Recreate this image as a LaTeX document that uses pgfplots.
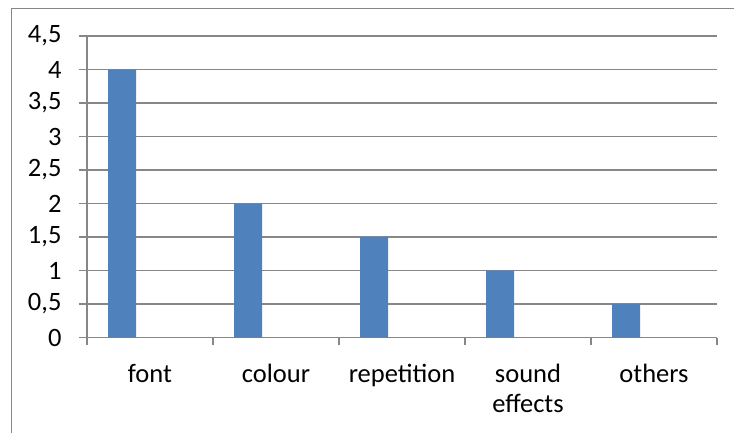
\documentclass[border=0pt]{standalone}
\usepackage{pgfplots}
\pgfplotsset{compat=1.18}
\usepackage{fontspec}
\setmainfont{Carlito}
\definecolor{barblue}{HTML}{4F81BD}
\definecolor{gridgray}{HTML}{878787}
\begin{document}
\begin{tikzpicture}[x=1pt,y=1pt]
\path[use as bounding box] (0,0) rectangle (734,432);
\draw[gridgray, line width=1.2pt] (11.5,-10) rectangle (745,423.5);
\begin{axis}[
  at={(87pt,94.5pt)}, anchor=south west,
  scale only axis, width=630pt, height=301.5pt,
  xmin=-0.5, xmax=4.5, ymin=0, ymax=4.5,
  enlargelimits=false,
  axis x line*=bottom, axis y line*=left,
  axis line style={-, gridgray, line width=1.2pt},
  ymajorgrids, grid style={gridgray, line width=1.2pt},
  ytick={0,0.5,...,4.5},
  /pgf/number format/use comma,
  /pgf/number format/assume math mode=true,
  tick align=outside, major tick length=8pt,
  y tick style={gridgray, line width=1.2pt},
  xtick={0,1,2,3,4},
  xticklabels={font,colour,repetition,sound\\effects,others},
  x tick style={draw=none},
  extra x ticks={-0.5,0.5,1.5,2.5,3.5,4.5},
  extra x tick labels={},
  extra x tick style={x tick style={draw=gridgray, line width=1.2pt}, major tick length=7pt, grid=none},
  ticklabel style={font=\fontsize{26.5}{30}\selectfont, text=black},
  xticklabel style={align=center, yshift=-15pt},
  yticklabel style={xshift=-14pt},
]
\addplot[ybar, bar width=0.2222, bar shift=-0.2222, fill=barblue, draw=none]
  coordinates {(0,4) (1,2) (2,1.5) (3,1) (4,0.5)};
\end{axis}
\end{tikzpicture}
\end{document}
